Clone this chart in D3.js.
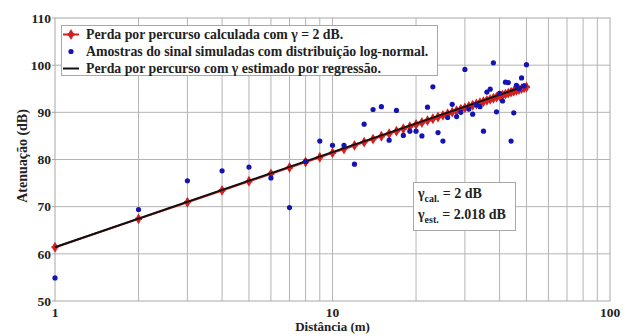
<!DOCTYPE html>
<html>
<head>
<meta charset="utf-8">
<script src="https://cdn.jsdelivr.net/npm/d3@7"></script>
<style>
  body { margin: 0; background: #fff; }
  text { font-family: "Liberation Serif", "DejaVu Serif", serif; font-weight: bold; fill: #222; }
</style>
</head>
<body>
<svg id="chart" width="625" height="336"></svg>
<script>
// distances (m)
var distances = d3.range(1, 51);

// path loss with gamma = 2 (dB)
var calculated = [61.4, 67.42, 70.94, 73.44, 75.38, 76.96, 78.30, 79.46, 80.48, 81.40,
  82.23, 82.98, 83.68, 84.32, 84.92, 85.48, 86.01, 86.51, 86.98, 87.42,
  87.84, 88.25, 88.63, 89.00, 89.36, 89.70, 90.03, 90.34, 90.65, 90.94,
  91.23, 91.50, 91.77, 92.03, 92.28, 92.53, 92.76, 92.99, 93.22, 93.44,
  93.65, 93.86, 94.07, 94.27, 94.46, 94.65, 94.84, 95.02, 95.20, 95.38];

// simulated samples with log-normal shadowing (dB)
var samples = [54.9, 69.4, 75.5, 77.6, 78.4, 76.1, 69.8, 79.6, 83.9, 83.0,
  83.0, 79.0, 87.5, 90.6, 91.2, 84.1, 90.4, 85.1, 86.0, 86.0,
  85.0, 91.1, 95.4, 85.7, 83.9, 88.9, 91.7, 89.1, 90.0, 99.1,
  90.7, 89.6, 91.6, 91.2, 86.0, 94.3, 94.9, 100.5, 90.1, 94.0,
  92.4, 96.4, 96.3, 83.9, 89.9, 95.7, 95.0, 97.3, 95.6, 100.1];

// regression line endpoints (gamma = 2.018)
var regressionX = [1, 50];
var regressionY = [61.4, 95.68];

var yTicks = [50, 60, 70, 80, 90, 100, 110];
var xTicks = [1, 10, 100];
var xGrid = [2, 3, 4, 5, 6, 7, 8, 9, 10, 20, 30, 40, 50, 60, 70, 80, 90];

var legendLabels = [
  "Perda por percurso calculada com \u03b3 = 2 dB.",
  "Amostras do sinal simuladas com distribui\u00e7\u00e3o log-normal.",
  "Perda por percurso com \u03b3 estimado por regress\u00e3o."
];

var margin = { left: 55, right: 15, top: 18, bottom: 35 };
var width = 625, height = 336;

var svg = d3.select("#chart");

var x = d3.scaleLog().domain([1, 100]).range([margin.left, width - margin.right]);
var y = d3.scaleLinear().domain([50, 110]).range([height - margin.bottom, margin.top]);

// grid
svg.append("g").selectAll("line").data(xGrid).enter().append("line")
  .attr("x1", function (d) { return x(d); })
  .attr("x2", function (d) { return x(d); })
  .attr("y1", y(50)).attr("y2", y(110))
  .style("stroke", "#b4b4b4").style("stroke-width", 1);

svg.append("g").selectAll("line").data(yTicks.slice(1, -1)).enter().append("line")
  .attr("x1", x(1)).attr("x2", x(100))
  .attr("y1", function (d) { return y(d); })
  .attr("y2", function (d) { return y(d); })
  .style("stroke", "#b4b4b4").style("stroke-width", 1);

// frame
svg.append("rect")
  .attr("x", x(1)).attr("y", y(110))
  .attr("width", x(100) - x(1)).attr("height", y(50) - y(110))
  .style("fill", "none").style("stroke", "#a8a8a8").style("stroke-width", 1);

// y ticks
svg.append("g").selectAll("text").data(yTicks).enter().append("text")
  .attr("x", x(1) - 4)
  .attr("y", function (d) { return y(d); })
  .attr("dy", "0.35em")
  .attr("text-anchor", "end")
  .style("font-size", "13.5px")
  .text(function (d) { return d; });

svg.append("g").selectAll("line").data(yTicks).enter().append("line")
  .attr("x1", x(1) - 3).attr("x2", x(1))
  .attr("y1", function (d) { return y(d); })
  .attr("y2", function (d) { return y(d); })
  .style("stroke", "#a8a8a8");

// x ticks
svg.append("g").selectAll("text").data(xTicks).enter().append("text")
  .attr("x", function (d) { return x(d); })
  .attr("y", y(50) + 16)
  .attr("text-anchor", "middle")
  .style("font-size", "13.5px")
  .text(function (d) { return d; });

// axis labels
svg.append("text")
  .attr("x", (x(1) + x(100)) / 2)
  .attr("y", 331)
  .attr("text-anchor", "middle")
  .style("font-size", "13px")
  .text("Dist\u00e2ncia (m)");

svg.append("text")
  .attr("transform", "translate(27,156) rotate(-90)")
  .attr("text-anchor", "middle")
  .style("font-size", "14px")
  .text("Atenua\u00e7\u00e3o (dB)");

// red calculated line with markers
var line = d3.line()
  .x(function (d, i) { return x(distances[i]); })
  .y(function (d) { return y(d); });

svg.append("path").datum(calculated)
  .attr("d", line)
  .style("fill", "none").style("stroke", "#d42020").style("stroke-width", 2);

var diamond = d3.symbol().type(d3.symbolDiamond).size(34);
var cross = d3.symbol().type(d3.symbolCross).size(26);

var markers = svg.append("g").selectAll("g").data(calculated).enter().append("g")
  .attr("transform", function (d, i) { return "translate(" + x(distances[i]) + "," + y(d) + ")"; });
markers.append("path").attr("d", diamond).style("fill", "#d42020");
markers.append("path").attr("d", cross).style("fill", "#d42020");

// black regression line
svg.append("line")
  .attr("x1", x(regressionX[0])).attr("y1", y(regressionY[0]))
  .attr("x2", x(regressionX[1])).attr("y2", y(regressionY[1]))
  .style("stroke", "#111").style("stroke-width", 2);

// blue samples
svg.append("g").selectAll("circle").data(samples).enter().append("circle")
  .attr("cx", function (d, i) { return x(distances[i]); })
  .attr("cy", function (d) { return y(d); })
  .attr("r", 2.6)
  .style("fill", "#1414b4");

// legend
var legend = svg.append("g");
legend.append("rect")
  .attr("x", 61.5).attr("y", 25.5).attr("width", 376).attr("height", 50)
  .style("fill", "#fff").style("stroke", "#a8a8a8");

var rows = legend.selectAll("g").data(legendLabels).enter().append("g")
  .attr("transform", function (d, i) { return "translate(0," + (34.5 + i * 17) + ")"; });

rows.append("text")
  .attr("x", 86).attr("dy", "0.35em")
  .style("font-size", "13.8px")
  .text(function (d) { return d; });

rows.filter(function (d, i) { return i == 0; }).append("line")
  .attr("x1", 63).attr("x2", 79).style("stroke", "#d42020").style("stroke-width", 2);
rows.filter(function (d, i) { return i == 0; }).append("path")
  .attr("transform", "translate(71,0)").attr("d", diamond).style("fill", "#d42020");
rows.filter(function (d, i) { return i == 0; }).append("path")
  .attr("transform", "translate(71,0)").attr("d", cross).style("fill", "#d42020");
rows.filter(function (d, i) { return i == 1; }).append("circle")
  .attr("cx", 71).attr("r", 2.6).style("fill", "#1414b4");
rows.filter(function (d, i) { return i == 2; }).append("line")
  .attr("x1", 63).attr("x2", 79).style("stroke", "#111").style("stroke-width", 2);

// gamma annotation
var note = svg.append("g");
note.append("rect")
  .attr("x", 413.5).attr("y", 182.5).attr("width", 102).attr("height", 48)
  .style("fill", "#fff").style("stroke", "#a8a8a8");

var t1 = note.append("text").attr("x", 418).attr("y", 198).style("font-size", "14px");
t1.append("tspan").text("\u03b3");
t1.append("tspan").attr("dy", 4).style("font-size", "10px").text("cal.");
t1.append("tspan").attr("dy", -4).text(" =  2  dB");

var t2 = note.append("text").attr("x", 418).attr("y", 219).style("font-size", "14px");
t2.append("tspan").text("\u03b3");
t2.append("tspan").attr("dy", 4).style("font-size", "10px").text("est.");
t2.append("tspan").attr("dy", -4).text(" = 2.018 dB");
</script>
</body>
</html>
